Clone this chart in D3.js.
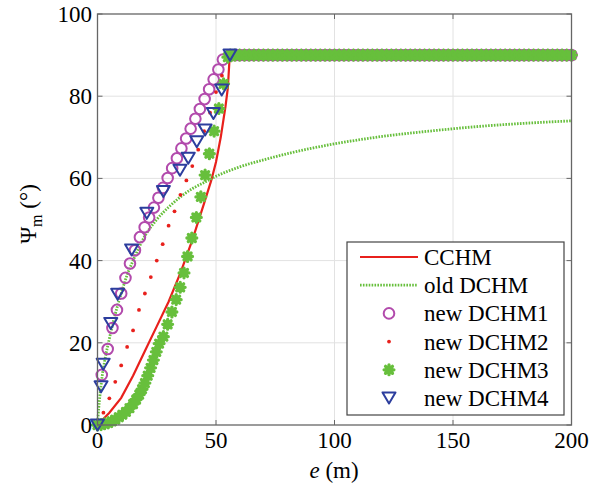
<!DOCTYPE html>
<html><head><meta charset="utf-8">
<script src="https://cdn.jsdelivr.net/npm/d3@7"></script>
<style>
html,body{margin:0;padding:0;background:#fff;}
</style></head>
<body><svg id="c" width="589" height="488" font-family="'Liberation Serif', 'Times New Roman', Times, serif"></svg>
<script>
// ---------- data ----------
const xTicks = [0, 50, 100, 150, 200];
const yTicks = [0, 20, 40, 60, 80, 100];
const legendLabels = ["CCHM", "old DCHM", "new DCHM1", "new DCHM2", "new DCHM3", "new DCHM4"];
const plateauValue = 90;
const plateauE = [56,58,60,62,64,66,68,70,72,74,76,78,80,82,84,86,88,90,92,94,96,98,100,102,104,106,108,110,112,114,116,118,120,122,124,126,128,130,132,134,136,138,140,142,144,146,148,150,152,154,156,158,160,162,164,166,168,170,172,174,176,178,180,182,184,186,188,190,192,194,196,198,200];

const cchmRise = [[0,0],[5,3],[10,6.6],[15,12],[20,18],[25,24],[30,30],[35,37],[40,45],[45,54],[48,59.5],[50,64],[52,70],[54,77.5],[55,82],[55.6,88],[56,90]];
const oldDchm = [[0,0],[0.5,4],[1,7],[2,12],[3,15.5],[5,21],[7.5,27],[10,32],[12.5,36.5],[15,40],[20,46],[25,50],[30,53],[35,55.5],[40,57.5],[45,59],[50,60.5],[60,62.8],[70,64.5],[80,66],[90,67.3],[100,68.4],[120,70.2],[140,71.5],[160,72.6],[180,73.4],[200,74]];
const dchm1Rise = [[1.8,12.2],[4.3,18.5],[6.3,23.6],[8.2,28],[10,32],[11.8,35.8],[13.7,39.3],[15.8,42.5],[17.9,45.7],[19.9,48.1],[21.8,50.5],[23.8,52.9],[25.7,55.3],[27.6,57.7],[29.6,60.1],[31.5,62.5],[33.5,64.9],[35.4,67.3],[37.4,69.7],[39.3,72.1],[41.3,74.5],[43.2,76.9],[45.2,79.3],[47.1,81.7],[49,84.1],[51,86.5],[52.9,88.9]];
const dchm2Rise = [[0,0],[2.5,3],[5,6.5],[7.5,10.5],[10,14.5],[12.5,19],[15,23],[17.5,28],[20,32],[22.5,36],[25,40],[27.5,44],[30,48.5],[32.5,52],[35,56],[37.5,59.5],[40,63],[42.5,67],[45,71.5],[47.5,76],[50,81],[52.5,85],[55,89]];
const dchm3Rise = [[0,0],[1.5,0.1],[3,0.3],[4.5,0.5],[6,0.9],[7.5,1.3],[9,1.9],[10.5,2.5],[12,3.2],[13.5,4.1],[15,5.1],[16.3,6.2],[17.6,7.4],[18.8,8.7],[20,10.2],[21.2,12],[22.4,13.9],[23.6,15.8],[24.8,17.8],[26,19.8],[27.8,21.5],[29.6,24.5],[31.4,27.5],[33.2,30.5],[34.9,33.5],[36.5,37],[38,41],[39.8,45.5],[41.7,50.5],[43.6,55.5],[45.4,60.8],[47.2,66],[49.2,71.5],[51.2,77],[53.2,83],[55,89.5]];
const dchm4 = [[0,0],[1.5,9.3],[2.4,14.8],[5.6,24.7],[8.5,31.8],[14.4,42.6],[20.8,51.5],[27.8,56.8],[34.8,62],[38.3,64.9],[41.9,68.9],[45.4,71.8],[48.9,75.8],[52.4,81.5],[55.9,90]];

const plateau = plateauE.map(e => [e, plateauValue]);
const cchm = cchmRise.concat([[200, plateauValue]]);
const dchm1 = dchm1Rise.concat(plateau);
const dchm2 = dchm2Rise.concat(plateau);
const dchm3 = dchm3Rise.concat(plateau);

// ---------- styles ----------
const C_RED = "#e8201c", C_GREEN = "#67bf3c", C_MAG = "#b24aac", C_BLUE = "#2c3e9e";
const TXT = "#000";

const svg = d3.select("#c");
const x = d3.scaleLinear().domain([0, 200]).range([97.5, 571.5]);
const y = d3.scaleLinear().domain([0, 100]).range([425, 14]);

// grid
const grid = svg.append("g");
grid.selectAll("line.gx").data(xTicks.slice(1, -1)).join("line")
  .attr("x1", d => x(d)).attr("x2", d => x(d)).attr("y1", y(0)).attr("y2", y(100))
  .attr("stroke", "#e2e2e2").attr("stroke-width", 1);
grid.selectAll("line.gy").data(yTicks.slice(1, -1)).join("line")
  .attr("y1", d => y(d)).attr("y2", d => y(d)).attr("x1", x(0)).attr("x2", x(200))
  .attr("stroke", "#e2e2e2").attr("stroke-width", 1);

// series
const line = d3.line().x(d => x(d[0])).y(d => y(d[1]));
svg.append("path").datum(cchm).attr("d", line).attr("fill", "none")
  .attr("stroke", C_RED).attr("stroke-width", 2.2);
svg.append("path").datum(oldDchm).attr("d", d3.line().x(d => x(d[0])).y(d => y(d[1])).curve(d3.curveMonotoneX)).attr("fill", "none")
  .attr("stroke", C_GREEN).attr("stroke-width", 2.8).attr("stroke-dasharray", "1.6 1.3");

function starPath(r) {
  const d = r * 0.7071;
  return `M${-r},0L${r},0M0,${-r}L0,${r}M${-d},${-d}L${d},${d}M${-d},${d}L${d},${-d}`;
}
function triPath(s) {
  const h = s * 0.85;
  return `M${-s/2},${-h/2}L${s/2},${-h/2}L0,${h/2}Z`;
}

svg.append("g").selectAll("circle").data(dchm1).join("circle")
  .attr("cx", d => x(d[0])).attr("cy", d => y(d[1])).attr("r", 5.3)
  .attr("fill", "none").attr("stroke", C_MAG).attr("stroke-width", 2);
svg.append("g").selectAll("circle").data(dchm2).join("circle")
  .attr("cx", d => x(d[0])).attr("cy", d => y(d[1])).attr("r", 1.9)
  .attr("fill", C_RED);
svg.append("g").selectAll("path").data(dchm3).join("path")
  .attr("transform", d => `translate(${x(d[0])},${y(d[1])})`)
  .attr("d", starPath(4.9)).attr("fill", "none").attr("stroke", C_GREEN)
  .attr("stroke-width", 3.3).attr("stroke-linecap", "round");
svg.append("g").selectAll("path").data(dchm4).join("path")
  .attr("transform", d => `translate(${x(d[0])},${y(d[1])})`)
  .attr("d", triPath(13)).attr("fill", "none").attr("stroke", C_BLUE)
  .attr("stroke-width", 2).attr("stroke-linejoin", "round");

// axes box & ticks
const ax = svg.append("g");
ax.append("rect").attr("x", x(0)).attr("y", y(100)).attr("width", x(200) - x(0)).attr("height", y(0) - y(100))
  .attr("fill", "none").attr("stroke", "#666").attr("stroke-width", 1.3);
const tl = 5;
xTicks.forEach(t => {
  ax.append("line").attr("x1", x(t)).attr("x2", x(t)).attr("y1", y(0)).attr("y2", y(0) - tl).attr("stroke", "#666");
  ax.append("line").attr("x1", x(t)).attr("x2", x(t)).attr("y1", y(100)).attr("y2", y(100) + tl).attr("stroke", "#666");
});
yTicks.forEach(t => {
  ax.append("line").attr("y1", y(t)).attr("y2", y(t)).attr("x1", x(0)).attr("x2", x(0) + tl).attr("stroke", "#666");
  ax.append("line").attr("y1", y(t)).attr("y2", y(t)).attr("x1", x(200)).attr("x2", x(200) - tl).attr("stroke", "#666");
});
ax.selectAll("text.xt").data(xTicks).join("text")
  .attr("x", d => x(d)).attr("y", 448).attr("text-anchor", "middle")
  .attr("font-size", 23).attr("fill", TXT).text(d => d);
ax.selectAll("text.yt").data(yTicks).join("text")
  .attr("x", 92).attr("y", d => y(d) + 8).attr("text-anchor", "end")
  .attr("font-size", 23).attr("fill", TXT).text(d => d);

// axis labels
const xl = svg.append("text").attr("x", 334).attr("y", 478).attr("text-anchor", "middle").attr("font-size", 23).attr("fill", TXT);
xl.append("tspan").attr("font-style", "italic").text("e");
xl.append("tspan").text(" (m)");
const yl = svg.append("text").attr("transform", "translate(36,214) rotate(-90)").attr("text-anchor", "middle").attr("font-size", 23).attr("fill", TXT);
yl.append("tspan").text("Ψ");
yl.append("tspan").attr("font-size", 16).attr("dy", 6).text("m");
yl.append("tspan").attr("dy", -6).text(" (°)");

// legend
const lg = svg.append("g");
lg.append("rect").attr("x", 347).attr("y", 242).attr("width", 217).attr("height", 173)
  .attr("fill", "#fff").attr("stroke", "#444").attr("stroke-width", 1.2);
const rowY = i => 257 + i * 28.2;
const hx0 = 360, hx1 = 418, hm = 389;
legendLabels.forEach((lab, i) => {
  lg.append("text").attr("x", 424).attr("y", rowY(i) + 8).attr("font-size", 23).attr("fill", TXT).text(lab);
});
lg.append("line").attr("x1", hx0).attr("x2", hx1).attr("y1", rowY(0)).attr("y2", rowY(0)).attr("stroke", C_RED).attr("stroke-width", 2.2);
lg.append("line").attr("x1", hx0).attr("x2", hx1).attr("y1", rowY(1)).attr("y2", rowY(1)).attr("stroke", C_GREEN).attr("stroke-width", 2.8).attr("stroke-dasharray", "1.6 1.3");
lg.append("circle").attr("cx", hm).attr("cy", rowY(2)).attr("r", 5.3).attr("fill", "none").attr("stroke", C_MAG).attr("stroke-width", 2);
lg.append("circle").attr("cx", hm).attr("cy", rowY(3)).attr("r", 1.9).attr("fill", C_RED);
lg.append("path").attr("transform", `translate(${hm},${rowY(4)})`).attr("d", starPath(4.9)).attr("fill", "none").attr("stroke", C_GREEN).attr("stroke-width", 3.3).attr("stroke-linecap", "round");
lg.append("path").attr("transform", `translate(${hm},${rowY(5)})`).attr("d", triPath(13)).attr("fill", "none").attr("stroke", C_BLUE).attr("stroke-width", 2).attr("stroke-linejoin", "round");
</script></body></html>
